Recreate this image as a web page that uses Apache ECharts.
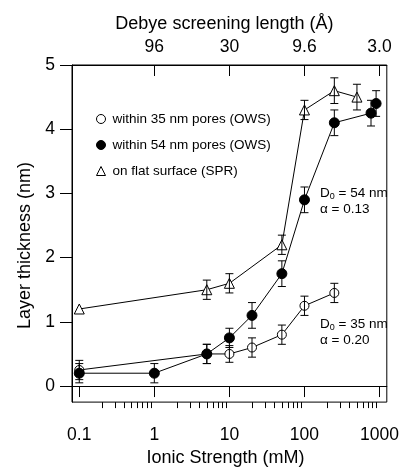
<!DOCTYPE html>
<html lang="en">
<head>
  <meta charset="UTF-8">
  <script src="https://cdn.jsdelivr.net/npm/echarts@6/dist/echarts.min.js"></script>
  <style>
    html, body { margin: 0; padding: 0; background: #fff; }
    #main { width: 402px; height: 472px; }
  </style>
</head>
<body>
<div id="main"></div>
<script>
  // ionic strength (mM), layer thickness (nm), error (nm)
  var ionicOpen = [0.1, 5, 10, 20, 50, 100, 250];
  var thickOpen = [0.25, 0.5, 0.5, 0.6, 0.8, 1.25, 1.45];
  var errOpen = [0.15, 0.15, 0.13, 0.15, 0.15, 0.15, 0.15];

  var ionicFilled = [0.1, 1, 5, 10, 20, 50, 100, 250, 770, 900];
  var thickFilled = [0.2, 0.2, 0.5, 0.75, 1.1, 1.75, 2.9, 4.1, 4.25, 4.4];
  var errFilled = [0.15, 0.15, 0.15, 0.15, 0.2, 0.2, 0.2, 0.2, 0.2, 0.2];

  var ionicFlat = [0.1, 5, 10, 50, 100, 250, 500];
  var thickFlat = [1.2, 1.5, 1.6, 2.2, 4.3, 4.6, 4.5];
  var errFlat = [0, 0.15, 0.15, 0.15, 0.15, 0.2, 0.2];

  var seriesNames = ['within 35 nm pores (OWS)', 'within 54 nm pores (OWS)', 'on flat surface (SPR)'];

  var bottomTicks = [0.1, 1, 10, 100, 1000];
  var minorTicks = [0.2, 0.3, 0.4, 0.5, 0.6, 0.7, 0.8, 0.9,
    2, 3, 4, 5, 6, 7, 8, 9, 20, 30, 40, 50, 60, 70, 80, 90,
    200, 300, 400, 500, 600, 700, 800, 900];
  var topTicks = [1, 10, 100, 1000];
  var topLabels = ['96', '30', '9.6', '3.0'];
  var yTicks = [0, 1, 2, 3, 4, 5];

  var FONT = 'Liberation Sans, Arial, sans-serif';

  function pairs(xs, ys) {
    return xs.map(function (x, i) { return [x, ys[i]]; });
  }

  function errorBars(xs, ys, es) {
    var data = [];
    xs.forEach(function (x, i) {
      if (es[i] > 0) data.push([x, ys[i] - es[i], ys[i] + es[i]]);
    });
    return {
      type: 'custom',
      silent: true,
      z: 5,
      data: data,
      renderItem: function (params, api) {
        var lo = api.coord([api.value(0), api.value(1)]);
        var hi = api.coord([api.value(0), api.value(2)]);
        var w = 4;
        var st = { stroke: '#000', lineWidth: 1 };
        return {
          type: 'group',
          children: [
            { type: 'line', shape: { x1: lo[0], y1: lo[1], x2: hi[0], y2: hi[1] }, style: st },
            { type: 'line', shape: { x1: lo[0] - w, y1: lo[1], x2: lo[0] + w, y2: lo[1] }, style: st },
            { type: 'line', shape: { x1: hi[0] - w, y1: hi[1], x2: hi[0] + w, y2: hi[1] }, style: st }
          ]
        };
      }
    };
  }

  function fmtBottom(v) {
    return v < 1 ? v.toFixed(1) : String(Math.round(v));
  }

  function fmtTop(v) {
    for (var i = 0; i < topTicks.length; i++) {
      if (Math.abs(Math.log10(v) - Math.log10(topTicks[i])) < 1e-6) return topLabels[i];
    }
    return '';
  }

  var axisLine = { show: true, lineStyle: { color: '#000', width: 1 } };
  var lineStyle = { color: '#000', width: 1 };

  var myChart = echarts.init(document.getElementById('main'));
  var option = {
    animation: false,
    backgroundColor: '#fff',
    textStyle: { fontFamily: FONT, color: '#000' },
    grid: { left: 72, right: 13, top: 65, bottom: 61, show: true, borderColor: '#000', borderWidth: 1 },
    legend: {
      orient: 'vertical',
      left: 91,
      top: 106,
      itemWidth: 9,
      itemHeight: 9,
      itemGap: 10,
      textStyle: { fontFamily: FONT, fontSize: 13.5, color: '#000', lineHeight: 16, padding: [0, 0, 0, 2] },
      data: [
        { name: seriesNames[0], icon: 'circle', itemStyle: { color: '#fff', borderColor: '#000', borderWidth: 1 } },
        { name: seriesNames[1], icon: 'circle', itemStyle: { color: '#000', borderColor: '#000', borderWidth: 1 } },
        { name: seriesNames[2], icon: 'triangle', itemStyle: { color: '#fff', borderColor: '#000', borderWidth: 1 } }
      ]
    },
    xAxis: [
      {
        type: 'log', position: 'bottom', min: 0.08, max: 1250,
        axisLine: axisLine,
        splitLine: { show: false },
        axisTick: { show: true, inside: false, length: 11, customValues: bottomTicks, lineStyle: { color: '#000' } },
        axisLabel: { show: true, customValues: bottomTicks, margin: 24, fontSize: 17.5, color: '#000', fontFamily: FONT, formatter: fmtBottom },
        name: 'Ionic Strength (mM)',
        nameLocation: 'middle',
        nameGap: 42,
        nameTextStyle: { fontSize: 18, color: '#000', fontFamily: FONT, padding: [0, 8, 0, 0] }
      },
      {
        type: 'log', position: 'bottom', min: 0.08, max: 1250,
        axisLine: { show: false },
        splitLine: { show: false },
        axisTick: { show: true, inside: false, length: 6, customValues: minorTicks, lineStyle: { color: '#000' } },
        axisLabel: { show: false }
      },
      {
        type: 'log', position: 'top', min: 0.08, max: 1250,
        axisLine: axisLine,
        splitLine: { show: false },
        axisTick: { show: true, inside: true, length: 11, customValues: topTicks, lineStyle: { color: '#000' } },
        axisLabel: { show: true, customValues: topTicks, margin: 9, fontSize: 17.5, color: '#000', fontFamily: FONT, formatter: fmtTop },
        name: 'Debye screening length (\u00c5)',
        nameLocation: 'middle',
        nameGap: 30,
        nameTextStyle: { fontSize: 18, color: '#000', fontFamily: FONT, padding: [0, 10, 0, 0] }
      }
    ],
    yAxis: [
      {
        type: 'value', min: -0.25, max: 5,
        axisLine: axisLine,
        splitLine: { show: false },
        axisTick: { show: true, inside: false, length: 12, customValues: yTicks, lineStyle: { color: '#000' } },
        axisLabel: { show: true, customValues: yTicks, margin: 17, fontSize: 17.5, color: '#000', fontFamily: FONT },
        name: 'Layer thickness (nm)',
        nameLocation: 'middle',
        nameGap: 29,
        nameTextStyle: { fontSize: 18, color: '#000', fontFamily: FONT, padding: [0, 24, 0, 0] }
      }
    ],
    graphic: [
      {
        type: 'text', left: 320, top: 186, silent: true,
        style: {
          text: '{n|D}{s|0}{n| = 54 nm}\n{n|\u03b1 = 0.13}',
          fill: '#000',
          rich: {
            n: { fontSize: 13.5, lineHeight: 16, fontFamily: FONT, fill: '#000' },
            s: { fontSize: 9, lineHeight: 9, verticalAlign: 'bottom', fontFamily: FONT, fill: '#000' }
          }
        }
      },
      {
        type: 'text', left: 320, top: 317, silent: true,
        style: {
          text: '{n|D}{s|0}{n| = 35 nm}\n{n|\u03b1 = 0.20}',
          fill: '#000',
          rich: {
            n: { fontSize: 13.5, lineHeight: 16, fontFamily: FONT, fill: '#000' },
            s: { fontSize: 9, lineHeight: 9, verticalAlign: 'bottom', fontFamily: FONT, fill: '#000' }
          }
        }
      }
    ],
    series: [
      {
        name: seriesNames[0], type: 'line', data: pairs(ionicOpen, thickOpen),
        symbol: 'circle', symbolSize: 9,
        itemStyle: { color: '#fff', borderColor: '#000', borderWidth: 1 },
        lineStyle: lineStyle, z: 3
      },
      {
        name: seriesNames[1], type: 'line', data: pairs(ionicFilled, thickFilled),
        symbol: 'circle', symbolSize: 10,
        itemStyle: { color: '#000', borderColor: '#000', borderWidth: 1 },
        lineStyle: lineStyle, z: 3
      },
      {
        name: seriesNames[2], type: 'line', data: pairs(ionicFlat, thickFlat),
        symbol: 'triangle', symbolSize: 10,
        itemStyle: { color: '#fff', borderColor: '#000', borderWidth: 1 },
        lineStyle: lineStyle, z: 3
      },
      errorBars(ionicOpen, thickOpen, errOpen),
      errorBars(ionicFilled, thickFilled, errFilled),
      errorBars(ionicFlat, thickFlat, errFlat)
    ]
  };
  myChart.setOption(option);
</script>
</body>
</html>
